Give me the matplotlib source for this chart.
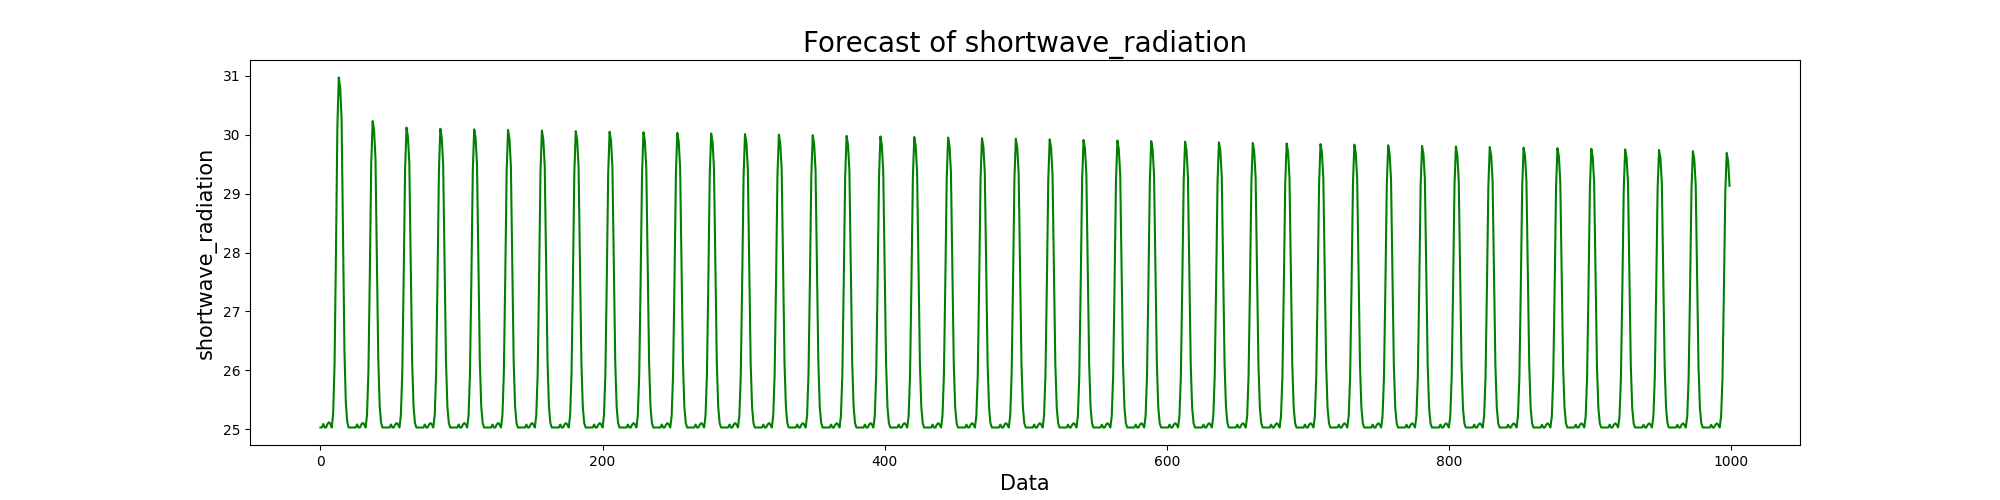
import numpy as np
import matplotlib.pyplot as plt

# peak value of each 24-step cycle
peaks = [30.97, 30.23, 30.12, 30.10, 30.09, 30.08, 30.07, 30.06, 30.05, 30.04,
         30.03, 30.02, 30.01, 30.00, 29.99, 29.98, 29.97, 29.96, 29.95, 29.94,
         29.93, 29.92, 29.91, 29.90, 29.89, 29.88, 29.87, 29.86, 29.85, 29.84,
         29.83, 29.82, 29.81, 29.80, 29.79, 29.78, 29.77, 29.76, 29.75, 29.74,
         29.72, 29.69]
# shape of one cycle (0 = baseline, 1 = peak)
profile = [0.00, 0.00, 0.01, 0.00, 0.00, 0.01, 0.015, 0.01, 0.00, 0.04,
           0.18, 0.50, 0.86, 1.00, 0.97, 0.88, 0.55, 0.22, 0.07, 0.015,
           0.00, 0.00, 0.00, 0.00]
baseline = 25.03
n_points = 1000

series = []
for p in peaks:
    for f in profile:
        series.append(baseline + f * (p - baseline))
series = np.array(series[:n_points])
x = np.arange(n_points)

fig, ax = plt.subplots(figsize=(20, 5))
ax.plot(x, series, color='green', linewidth=1.5)
ax.set_title('Forecast of shortwave_radiation', fontsize=20)
ax.set_xlabel('Data', fontsize=15)
ax.set_ylabel('shortwave_radiation', fontsize=15)
fig.savefig('out.png', dpi=100)
plt.close()
